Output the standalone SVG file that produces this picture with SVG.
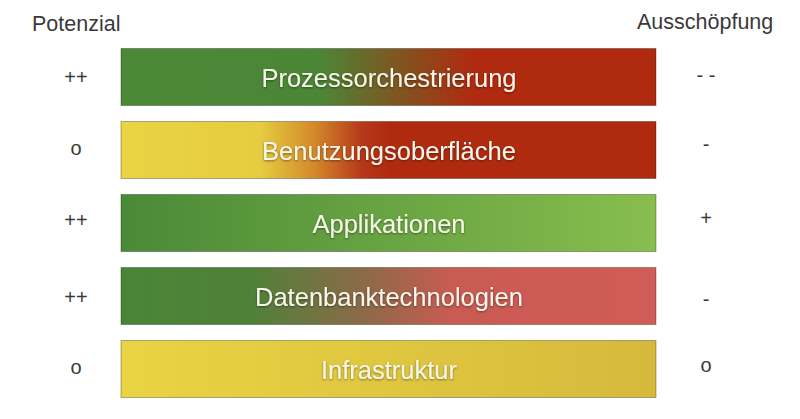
<svg xmlns="http://www.w3.org/2000/svg" width="800" height="419" viewBox="0 0 800 419">
  <style>
    .hdr { font-family: "Liberation Sans", Arial, sans-serif; font-size: 21.5px; fill: #3a3a3a; }
    .rate { font-family: "Liberation Sans", Arial, sans-serif; font-size: 20px; fill: #3a3a3a; text-anchor: middle; }
    .bar { stroke: #000; stroke-opacity: 0.3; stroke-width: 1; }
    .lbl { font-family: "Liberation Sans", Arial, sans-serif; font-size: 25.5px; fill: #f7f6ea; text-anchor: middle; filter: url(#shadow); }
  </style>
  <defs>
    <filter id="shadow" x="-10%" y="-30%" width="120%" height="160%">
      <feDropShadow dx="0" dy="1" stdDeviation="1" flood-color="#000" flood-opacity="0.45"/>
    </filter>
    <linearGradient id="g1" x1="0" y1="0" x2="1" y2="0">
      <stop offset="0" stop-color="#4c8936"/>
      <stop offset="0.37" stop-color="#4b8637"/>
      <stop offset="0.53" stop-color="#83521e"/>
      <stop offset="0.66" stop-color="#b02a10"/>
      <stop offset="1" stop-color="#b02a10"/>
    </linearGradient>
    <linearGradient id="g2" x1="0" y1="0" x2="1" y2="0">
      <stop offset="0" stop-color="#e9d444"/>
      <stop offset="0.26" stop-color="#e6cc40"/>
      <stop offset="0.36" stop-color="#d48a2b"/>
      <stop offset="0.45" stop-color="#b6381a"/>
      <stop offset="0.5" stop-color="#b02a10"/>
      <stop offset="1" stop-color="#b02a10"/>
    </linearGradient>
    <linearGradient id="g3" x1="0" y1="0" x2="1" y2="0">
      <stop offset="0" stop-color="#4a8a37"/>
      <stop offset="1" stop-color="#88be4e"/>
    </linearGradient>
    <linearGradient id="g4" x1="0" y1="0" x2="1" y2="0">
      <stop offset="0" stop-color="#4a8537"/>
      <stop offset="0.24" stop-color="#4f8139"/>
      <stop offset="0.45" stop-color="#8b6a48"/>
      <stop offset="0.62" stop-color="#c95b52"/>
      <stop offset="1" stop-color="#d05c58"/>
    </linearGradient>
    <linearGradient id="g5" x1="0" y1="0" x2="1" y2="0">
      <stop offset="0" stop-color="#e9d443"/>
      <stop offset="1" stop-color="#d6b93b"/>
    </linearGradient>
  </defs>

  <g id="headers">
    <text class="hdr" x="32" y="31">Potenzial</text>
    <text class="hdr" x="637" y="29">Ausschöpfung</text>
  </g>

  <g id="node-prozessorchestrierung">
    <text class="rate" x="76" y="84">++</text>
    <rect class="bar" x="121" y="48.5" width="535" height="57" fill="url(#g1)"/>
    <text class="lbl" x="389" y="87">Prozessorchestrierung</text>
    <text class="rate" x="706" y="82">- -</text>
  </g>

  <g id="node-benutzungsoberflaeche">
    <text class="rate" x="76" y="155">o</text>
    <rect class="bar" x="121" y="121.5" width="535" height="57" fill="url(#g2)"/>
    <text class="lbl" x="389" y="160">Benutzungsoberfläche</text>
    <text class="rate" x="706" y="151">-</text>
  </g>

  <g id="node-applikationen">
    <text class="rate" x="76" y="227">++</text>
    <rect class="bar" x="121" y="194.5" width="535" height="57" fill="url(#g3)"/>
    <text class="lbl" x="389" y="233">Applikationen</text>
    <text class="rate" x="706" y="225">+</text>
  </g>

  <g id="node-datenbanktechnologien">
    <text class="rate" x="76" y="304">++</text>
    <rect class="bar" x="121" y="267.5" width="535" height="57" fill="url(#g4)"/>
    <text class="lbl" x="389" y="306">Datenbanktechnologien</text>
    <text class="rate" x="706" y="306">-</text>
  </g>

  <g id="node-infrastruktur">
    <text class="rate" x="76" y="374">o</text>
    <rect class="bar" x="121" y="340.5" width="535" height="57" fill="url(#g5)"/>
    <text class="lbl" x="389" y="379">Infrastruktur</text>
    <text class="rate" x="706" y="372">o</text>
  </g>

  <g id="connectors"/>
</svg>
